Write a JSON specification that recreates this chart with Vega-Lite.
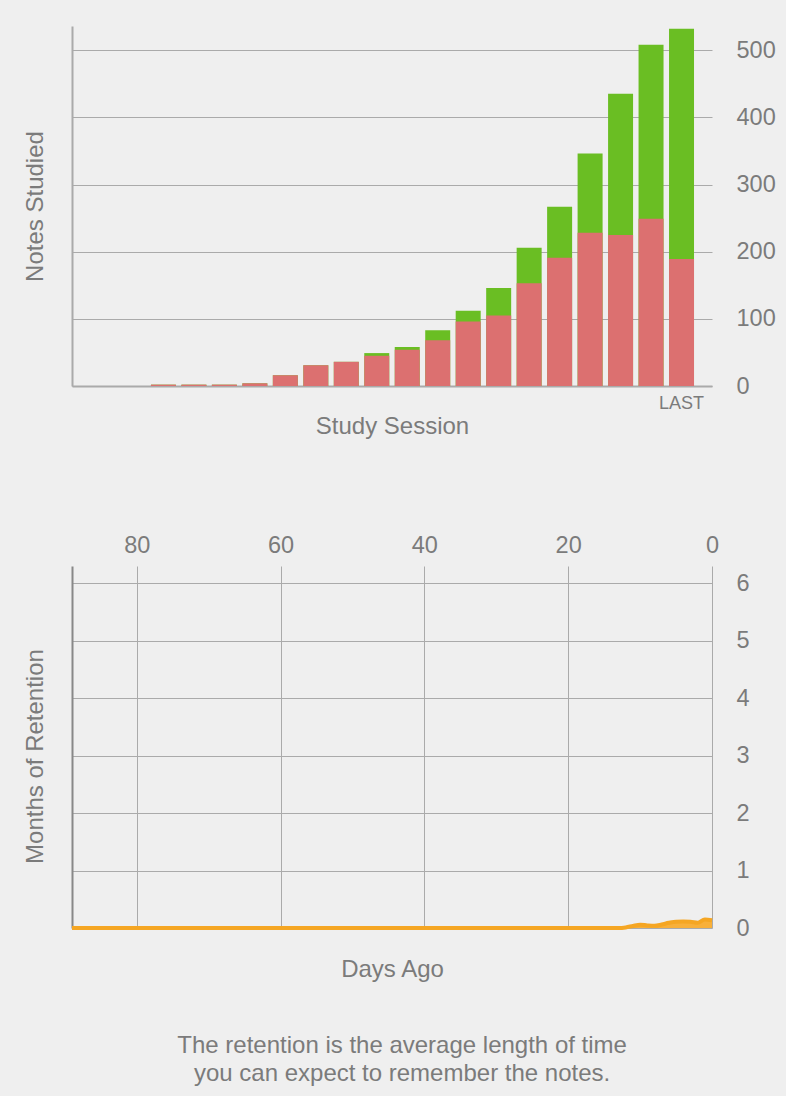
{
  "$schema": "https://vega.github.io/schema/vega-lite/v6.json",
  "background": "#efefef",
  "padding": {"left": 23, "top": 26, "right": 10, "bottom": 10},
  "config": {
    "font": "Liberation Sans",
    "view": {"stroke": null},
    "axis": {
      "labelColor": "#7b7b7b",
      "titleColor": "#7b7b7b",
      "titleFontWeight": "normal",
      "labelFontSize": 23.5,
      "titleFontSize": 24,
      "gridColor": "#aaaaaa",
      "gridWidth": 1,
      "ticks": false,
      "labelFlush": false,
      "domainColor": "#aaaaaa"
    }
  },
  "spacing": 95,
  "title": {
    "text": ["The retention is the average length of time", "you can expect to remember the notes."],
    "orient": "bottom",
    "anchor": "middle",
    "fontSize": 24,
    "fontWeight": "normal",
    "color": "#7b7b7b",
    "lineHeight": 28,
    "offset": 53,
    "dx": 3
  },
  "datasets": {
    "sessions": [
      {"session": 1, "forgotten": 0, "total": 0},
      {"session": 2, "forgotten": 0, "total": 0},
      {"session": 3, "forgotten": 2, "total": 2},
      {"session": 4, "forgotten": 2, "total": 2},
      {"session": 5, "forgotten": 2, "total": 2},
      {"session": 6, "forgotten": 4, "total": 4},
      {"session": 7, "forgotten": 16, "total": 16},
      {"session": 8, "forgotten": 31, "total": 31},
      {"session": 9, "forgotten": 36, "total": 36},
      {"session": 10, "forgotten": 45, "total": 49},
      {"session": 11, "forgotten": 54, "total": 58},
      {"session": 12, "forgotten": 68, "total": 83},
      {"session": 13, "forgotten": 96, "total": 112},
      {"session": 14, "forgotten": 105, "total": 146},
      {"session": 15, "forgotten": 153, "total": 206},
      {"session": 16, "forgotten": 191, "total": 267},
      {"session": 17, "forgotten": 228, "total": 346},
      {"session": 18, "forgotten": 225, "total": 435},
      {"session": 19, "forgotten": 249, "total": 508},
      {"session": 20, "forgotten": 189, "total": 532}
    ],
    "retention": [
      {"days_ago": 89, "months": 0},
      {"days_ago": 80, "months": 0},
      {"days_ago": 70, "months": 0},
      {"days_ago": 60, "months": 0},
      {"days_ago": 50, "months": 0},
      {"days_ago": 40, "months": 0},
      {"days_ago": 30, "months": 0},
      {"days_ago": 20, "months": 0},
      {"days_ago": 14, "months": 0},
      {"days_ago": 13, "months": 0},
      {"days_ago": 12, "months": 0.01},
      {"days_ago": 11, "months": 0.035},
      {"days_ago": 10, "months": 0.057},
      {"days_ago": 9, "months": 0.045},
      {"days_ago": 8, "months": 0.038},
      {"days_ago": 7, "months": 0.06},
      {"days_ago": 6, "months": 0.09},
      {"days_ago": 5, "months": 0.11},
      {"days_ago": 4, "months": 0.112},
      {"days_ago": 3, "months": 0.11},
      {"days_ago": 2, "months": 0.092},
      {"days_ago": 1, "months": 0.15},
      {"days_ago": 0, "months": 0.135}
    ]
  },
  "vconcat": [
    {
      "width": 640,
      "height": 360,
      "data": {"name": "sessions"},
      "layer": [
        {
          "mark": {"type": "bar", "color": "#6abe23"},
          "encoding": {
            "x": {
              "field": "session",
              "type": "ordinal",
              "scale": {"paddingInner": 0.18, "paddingOuter": 0.59},
              "axis": {
                "orient": "bottom",
                "title": "Study Session",
                "labelExpr": "datum.value == 20 ? 'LAST' : ''",
                "labelFontSize": 18,
                "labelAngle": 0,
                "labelPadding": 8,
                "domainWidth": 2,
                "titleY": 40,
                "titleBaseline": "middle"
              }
            },
            "y": {
              "field": "total",
              "type": "quantitative",
              "scale": {"domain": [0, 536], "nice": false},
              "axis": {
                "orient": "left",
                "labels": false,
                "grid": false,
                "domain": true,
                "domainWidth": 2,
                "title": "Notes Studied",
                "titleX": -37,
                "titleY": 180,
                "titleAngle": 270,
                "titleBaseline": "middle",
                "titleAlign": "center"
              }
            }
          }
        },
        {
          "mark": {"type": "bar", "color": "#dc7070"},
          "encoding": {
            "x": {"field": "session", "type": "ordinal"},
            "y": {
              "field": "forgotten",
              "type": "quantitative",
              "axis": {
                "orient": "right",
                "values": [0, 100, 200, 300, 400, 500],
                "grid": true,
                "domain": false,
                "labelPadding": 24,
                "title": null
              }
            }
          }
        }
      ],
      "resolve": {"axis": {"y": "independent"}}
    },
    {
      "width": 640,
      "height": 362,
      "data": {"name": "retention"},
      "layer": [
        {
          "mark": {"type": "area", "color": "#f8b03a", "interpolate": "monotone"},
          "encoding": {
            "x": {
              "field": "days_ago",
              "type": "quantitative",
              "scale": {"domain": [0, 89], "reverse": true, "nice": false, "zero": false},
              "axis": {
                "orient": "top",
                "values": [80, 60, 40, 20, 0],
                "grid": true,
                "domain": false,
                "labelFlush": false,
                "labelPadding": 9,
                "title": "Days Ago",
                "titleY": 403,
                "titleBaseline": "middle"
              }
            },
            "y": {
              "field": "months",
              "type": "quantitative",
              "scale": {"domain": [0, 6.3], "nice": false},
              "axis": {
                "orient": "left",
                "labels": false,
                "grid": false,
                "domain": true,
                "domainWidth": 2,
                "domainColor": "#888888",
                "title": "Months of Retention",
                "titleX": -37,
                "titleY": 190,
                "titleAngle": 270,
                "titleBaseline": "middle",
                "titleAlign": "center"
              }
            }
          }
        },
        {
          "mark": {"type": "line", "color": "#f5a623", "strokeWidth": 4, "interpolate": "monotone"},
          "encoding": {
            "x": {"field": "days_ago", "type": "quantitative"},
            "y": {
              "field": "months",
              "type": "quantitative",
              "axis": {
                "orient": "right",
                "values": [0, 1, 2, 3, 4, 5, 6],
                "grid": true,
                "domain": false,
                "labelPadding": 24,
                "title": null
              }
            }
          }
        }
      ],
      "resolve": {"axis": {"y": "independent"}}
    }
  ]
}
